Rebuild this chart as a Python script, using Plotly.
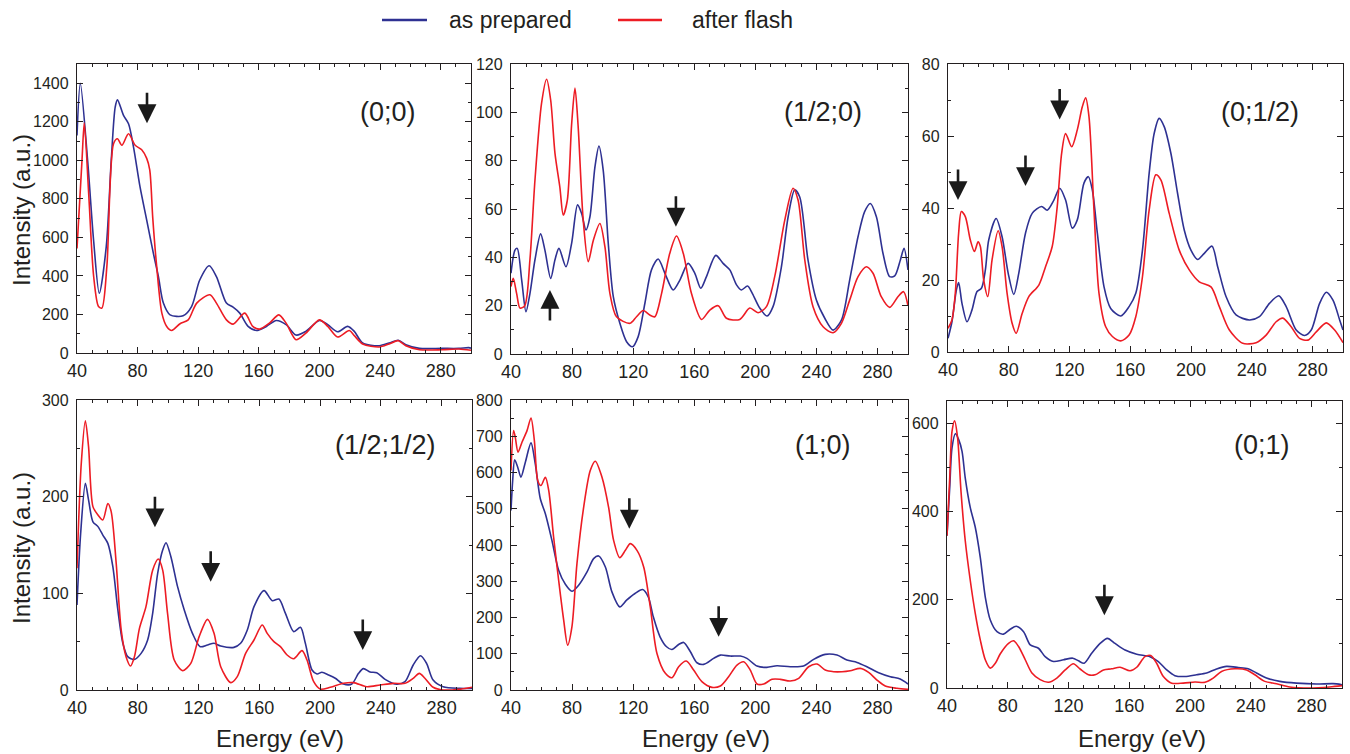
import plotly.graph_objects as go

BLUE = "#2e3192"
RED = "#ed1c24"
INK = "#231f20"
FONT = "Liberation Sans, Arial, sans-serif"

series_names = ["as prepared", "after flash"]
x_ticks = [40, 80, 120, 160, 200, 240, 280]

# ---- (0;0) ----
e_00_prep = [40, 42.2, 47, 51, 54.7, 59.3, 62.6, 65.2, 66.7, 70.7, 74, 77.3, 81.6, 86, 90.4, 93.7, 97, 101.4, 110,
             115.6, 121, 127.2, 132, 138.6, 143, 147.4, 152.9, 158.4, 165, 171.5, 178, 184.6, 191, 200, 205.5, 212,
             218.6, 223, 228.5, 239.5, 246, 252, 257, 266, 281, 292, 298.6, 300]
i_00_prep = [1129, 1400, 1000, 580, 310, 552, 1000, 1276, 1314, 1233, 1190, 1069, 862, 690, 517, 397, 259, 198, 193,
             241, 379, 453, 397, 259, 238, 207, 138, 117, 138, 169, 147, 93, 112, 169, 147, 110,
             138, 112, 52, 38, 52, 66, 43, 24, 24, 24, 28, 25]
e_00_flash = [40, 43.3, 44.8, 47.7, 51, 54.2, 56.4, 59.7, 64.1, 66.7, 69.6, 74, 78.4, 82.7, 86, 88, 90, 92.6, 96, 99.2,
              102.5, 108, 113.4, 119, 127.7, 132, 138.6, 143, 150.7, 156, 160.5, 167, 173.2, 178, 184.6, 191, 200,
              205.5, 212, 219.7, 223, 228.5, 239.5, 246, 252, 257, 266, 281, 292, 300]
i_00_flash = [543, 1000, 1193, 828, 397, 241, 233, 448, 1086, 1112, 1078, 1138, 1078, 1055, 1010, 950, 700, 448, 207, 138,
              117, 152, 172, 259, 302, 259, 172, 150, 207, 138, 124, 155, 198, 155, 69, 103, 172,
              138, 83, 117, 90, 47, 31, 47, 64, 38, 17, 17, 21, 14]

# ---- (1/2;0) ----
e_h0_prep = [40, 42.6, 44.1, 47, 49.8, 52.4, 55.7, 59.4, 62.2, 66, 68.8, 71.4, 76, 79.7, 83.6, 86.2, 89.1, 91.7, 95,
             97.6, 100.4, 103.7, 107, 111.3, 115.7, 119.6, 123.3, 127.7, 132, 136.4, 140.8, 146.2, 150.6, 156,
             160.4, 164.3, 168, 174.1, 178.9, 183.3, 187.7, 190.9, 194.9, 198.1, 202.9, 207.7, 211.6, 217.1,
             221.5, 225.8, 229.1, 234.5, 240, 245.5, 250.9, 256.4, 261.8, 267.3, 271.6, 275.3, 279.3, 283.6, 288,
             291.3, 295, 297.4, 300]
i_h0_prep = [33.4, 43, 43.7, 30.6, 17.5, 25, 39, 49.7, 43, 31.3, 39, 43.7, 36.1, 45.8, 61.7, 58.2, 51.3, 56.8, 77.5,
             86, 76, 45.8, 23.7, 12.7, 5.1, 3, 7.2, 21, 34.8, 39.3, 33.4, 26.5, 30.6, 37.5,
             33.4, 27.2, 32, 40.8, 37.5, 34.8, 28.6, 26.5, 28.1, 25, 19, 15.7, 19.6, 36.1,
             56.8, 67.9, 65, 38.9, 22.3, 14.8, 9.9, 14, 30.6, 48.6, 58.9, 62.3, 56.8, 41.7, 32,
             32.3, 38.9, 43.7, 34.8]
e_h0_flash = [40, 41.5, 43.7, 45.9, 49, 52.4, 55.7, 60, 63.3, 66, 68.8, 72, 74.2, 76.9, 79.7, 81.9, 84, 87.3, 90.6,
              93.9, 98.2, 101.5, 104.8, 109.1, 117.9, 122.2, 126.6, 130.9, 134.2, 138.6, 144, 148.4, 152.8, 158.2,
              164.8, 170.2, 175.7, 181.1, 189.8, 196.4, 201.8, 207.3, 212.7, 219.3, 224.7, 228, 232.4, 237.8,
              244.4, 250.9, 256.4, 261.8, 267.3, 272.7, 277.1, 282.5, 288, 293.4, 297.1, 300]
i_h0_flash = [27.9, 31.3, 25, 19, 20, 39, 72, 103.7, 113.7, 105, 83, 69, 57.5, 63.7, 95, 110, 94, 55.4, 38.2,
              47, 54, 44.4, 25, 15.4, 12.7, 15.4, 18, 16.1, 15.4, 25, 41.7, 48.8, 41.7, 25,
              14.3, 18.2, 20, 14.8, 14.3, 19, 17.1, 19.6, 32, 55.4, 68.6, 63.7, 38.9, 19.6,
              11.3, 8.8, 12.7, 22.3, 32, 36.1, 33.4, 23.7, 19.3, 23.7, 25.8, 19.9]

# ---- (0;1/2) ----
e_0h_prep = [40, 42.6, 45.5, 47, 49.2, 52.5, 55.8, 59.1, 62, 64.6, 66.8, 71.7, 75.6, 79.6, 83.3, 86.6, 91, 95.4,
             101.6, 105.3, 109.7, 113.5, 117.4, 121.8, 125.1, 129.5, 132.4, 135, 138.3, 142.7, 147.1, 153.7,
             159.2, 163.6, 168, 172.4, 175.7, 179, 182.3, 186.7, 191.1, 195.5, 199.9, 204.3, 208.7, 213.8,
             217.5, 223, 229.6, 238.4, 245, 251.6, 257.8, 262.6, 269.2, 274.7, 279.1, 284.6, 289, 293.4, 297.8, 300]
i_0h_prep = [3.8, 8.4, 17.2, 19.3, 13.5, 8.4, 11.7, 16.8, 17.7, 22.8, 31.1, 37.1, 32, 21.9, 16, 21.9, 33, 38.5,
             40.4, 39.4, 42.2, 45.5, 42.2, 34.4, 36.7, 46.9, 48.7, 45, 33, 18.1, 12.1, 10,
             12.6, 16.3, 28.3, 49.6, 60.7, 64.9, 62.6, 55.2, 44.1, 33.9, 28.3, 25.7, 27.4, 29.4,
             23.7, 15.4, 10.3, 8.9, 9.8, 13.5, 15.6, 12.6, 6.1, 4.6, 6.1, 13.5, 16.6, 14.4, 8.9, 6.1]
e_0h_flash = [40, 42.6, 44.8, 47, 48.8, 51.4, 54.7, 57.4, 59.8, 61.3, 63.5, 66.2, 69, 73, 75.6, 78.9, 82.2, 84.9,
              88.8, 93.2, 99.8, 104.2, 108.6, 111.9, 114.8, 117.4, 121.4, 125.1, 128.4, 130.6, 132.8, 136.1,
              139.4, 143.8, 148.2, 153.7, 159.2, 163.6, 168, 172.4, 176.8, 180.1, 185.6, 192.2, 198.8, 205.4,
              213.1, 218.6, 225.2, 234, 242.8, 249.4, 256, 260.4, 265.9, 271.4, 276.9, 282.4, 289, 294.5, 300]
i_0h_flash = [6.6, 8.9, 16.3, 33, 39, 37.6, 31.1, 27.9, 30.6, 29.3, 20, 15.4, 25.6, 33.7, 29.3, 16.3, 8, 5.2,
              10.7, 15.4, 18.6, 23.7, 29.3, 40.4, 55.2, 60.7, 57, 61.7, 68.1, 70.6, 65.4, 39.4,
              16.3, 7, 4.3, 3.1, 4.7, 9.8, 20.9, 39.4, 49.2, 47.8, 38.5, 28.3, 22.8, 19.5,
              18.1, 12.6, 6.1, 2.4, 2.6, 4.7, 8.4, 9.4, 7, 3.8, 3.3, 5.6, 8.1, 6.1, 2.6]

# ---- (1/2;1/2) ----
e_hh_prep = [40, 42.4, 45.5, 47.6, 50.5, 53.8, 57, 60.3, 63.6, 66.9, 70.2, 73.4, 77.8, 82.2, 86.5, 89.8, 93.1, 96.4,
             98.6, 101.8, 106.2, 110.6, 116, 121.1, 125.9, 130.2, 134.6, 143.3, 147.7, 152.1, 156.5, 163.1, 168.5,
             172.9, 177.2, 182.7, 187.1, 190.3, 194.7, 198, 201.2, 205.6, 210, 215.4, 220.9, 225.3, 228.5,
             232.9, 237.3, 242.8, 250.4, 255.9, 261.3, 266.1, 270.1, 274.4, 281, 291.9, 300]
i_hh_prep = [87.9, 162, 213.8, 196.6, 174, 169, 160.3, 151.7, 127.6, 82.8, 48.3, 34.5, 31.7, 37.9, 51.7, 79.3, 120.7,
             144.8, 152.4, 137.9, 106.9, 82.8, 58.6, 44.8, 46.6, 48.3, 45.5, 44.1, 48.3, 62.1, 86.2, 102.8, 92.4,
             94.1, 79.3, 60.3, 64.8, 48.3, 20.7, 16.6, 18.3, 15.5, 12.1, 6.2, 6.2, 17.2, 22.1,
             18.6, 17.9, 11, 5.9, 8.6, 25.9, 35.5, 27.6, 10.3, 3.4, 1.7, 1.7]
e_hh_flash = [40, 42.8, 45.5, 47.6, 50.5, 53.8, 57, 60.3, 62.5, 65.8, 69.1, 72.3, 75.2, 77.8, 81.1, 85.4, 89.8, 93.5,
              96.4, 99.6, 104, 109.5, 114.9, 120.4, 125.9, 130.2, 134.6, 141.2, 145.5, 151, 156.5, 161.9, 165.2,
              169.6, 173.9, 178.3, 182.7, 188.1, 191.4, 195.8, 200.1, 206.7, 215.4, 222, 230.7, 239.5, 248.2,
              255.9, 261.3, 265.3, 269, 274.4, 281, 291.9, 300]
i_hh_flash = [125.9, 234, 278.6, 251.7, 189.7, 181, 175.9, 193, 184.5, 131, 62, 34.5, 24.8, 34.5, 63.8, 86.2, 124, 135.5,
              124, 79.3, 31, 20, 27.6, 55.2, 73.1, 58.6, 24.1, 7.6, 13.8, 37.9, 51.7, 67.2, 58.6,
              50, 44.8, 36.2, 32.4, 40.7, 31, 8.6, 1, 2.8, 6.9, 7.6, 3.4, 5.2, 6.9,
              6.9, 12.1, 17.2, 12.1, 2.8, 0, 0.7, 2.8]

# ---- (1;0) ----
e_10_prep = [40, 41.1, 42.4, 44.4, 46.5, 49.4, 53.1, 55.9, 59.2, 62.5, 66.8, 71.2, 75.6, 79.9, 84.3, 89.8, 94.1, 97.4,
             101.8, 106.1, 111.2, 115.7, 121.2, 126.2, 129.9, 133.2, 137.6, 141.9, 145.4, 149.8, 153.1, 157.5,
             161.8, 166.2, 172.7, 177.1, 183.6, 190.2, 194.5, 201.1, 207.6, 214.2, 222.9, 231.6, 238.2, 245.8,
             253.5, 260, 266.6, 273.1, 280.8, 288.4, 294.9, 300]
i_10_prep = [495.4, 578, 634.9, 614.7, 587.2, 628.4, 681.7, 623.9, 527.5, 486.2, 412.8, 330.3, 291.7, 272.5, 289,
             325.7, 362.4, 369.7, 339.4, 270.6, 229.4, 247.7, 266.1, 277, 256.9, 201.8, 146.8, 119.3, 111.9, 125.7,
             131.2, 105.5, 75.2, 70.6, 87.2, 96.3, 93.6, 93.6, 87.2, 66.1, 62.4, 67, 64.2, 66.1, 84.4, 98.2,
             96.3, 82.6, 76.1, 64.2, 47.7, 36.7, 30.3, 16.5]
e_10_flash = [40, 41.7, 42.8, 44.6, 47.2, 50.5, 53.1, 55.3, 57.5, 59.6, 62.5, 64.7, 67.9, 71.2, 74.5, 77.1, 79.9,
              83.2, 87.6, 91.9, 95.2, 99.6, 103.9, 107.2, 111.2, 114.9, 118.1, 122.5, 126.9, 131.2, 135.6, 141.1,
              145.4, 149.8, 154.8, 159.6, 165, 171.6, 177.1, 182.5, 188, 192.4, 196.7, 201.1, 205.5, 210.9, 216.4,
              222.9, 228.4, 234.9, 240.4, 245.8, 251.3, 256.8, 262.2, 268.8, 274.2, 279.7, 285.1, 292.8, 300]
i_10_flash = [605.5, 715.6, 697.2, 656, 683.5, 715.6, 750.5, 688, 578, 564, 587, 550.5, 422, 302.8, 192.7, 123.9,
              174.3, 348.6, 504.6, 605.5, 631.2, 587, 504.6, 412.8, 365.1, 385.3, 403.7, 385.3, 339.4, 229.4, 100.9,
              45.9, 33.9, 64.2, 79.8, 55, 22.9, 7.3, 11, 36.7, 68.8, 78, 55, 16.5, 16.5, 29.4, 29.4,
              24.8, 32.1, 64.2, 71.6, 55, 50.5, 50.5, 53.2, 59.6, 48.6, 27.5, 11, 4.6, 1.8]

# ---- (0;1) ----
e_01_prep = [40, 41.8, 43.3, 45.5, 47.7, 49.9, 52, 55.3, 58.6, 61.9, 65.2, 68.5, 72.9, 77.2, 81.6, 85.6, 90.4, 94.8,
             100.2, 104.6, 110.1, 116.7, 122.8, 126.5, 130.3, 135.3, 140.8, 145.6, 150.6, 157.2, 164.9, 173.6,
             179.1, 184.6, 190, 196.6, 204.3, 210.9, 217.4, 224, 231.7, 238.2, 243.7, 250.3, 259.1, 270, 283.2,
             294.1, 300]
i_01_prep = [345, 454, 544, 576, 562.5, 536, 476, 409, 364, 296, 206, 154, 127.5, 122, 133, 140, 127.5, 97.5,
             90, 71, 60, 64, 67.5, 61.5, 56, 79, 101, 112.5, 101, 86, 76.5, 71,
             60, 41, 28, 26, 30, 34, 43, 49, 46.5, 43.5, 34, 22.5, 15, 11, 9,
             9.8, 7.5]
e_01_flash = [40, 41.8, 43.3, 45, 47, 49.2, 52, 55.3, 58.6, 61.9, 65.2, 68.5, 71.8, 75, 80.5, 83.8, 87.1, 91.5, 95.9,
              101.3, 106.8, 112.3, 117.8, 123.2, 127.6, 133.1, 137.5, 143, 148.4, 153.9, 160.5, 164.9, 170.3, 174.1,
              178, 182.4, 187.9, 195.5, 203.2, 209.8, 215.2, 220.7, 229.5, 237.2, 242.6, 249.2, 256.9, 265.6,
              278.8, 291.9, 300]
i_01_flash = [345, 476, 581, 605, 566, 446, 334, 244, 169, 109, 64, 45, 56, 77, 101, 107, 94, 64, 34,
              19, 13, 22.5, 41, 55, 43, 30, 30, 41, 43.5, 47, 39, 47, 71, 73.5,
              56, 26, 11, 11, 13.5, 13, 22.5, 37.5, 43.5, 41, 30, 15, 9.8, 2.3,
              0, 2.3, 5.3]

# arrow tips (energy, intensity) and pointing direction for each panel
arrows_00 = ([86.2], [1193], ["down"])
arrows_h0 = ([148, 65.5], [52.7, 26.5], ["down", "up"])
arrows_0h = ([46.6, 91, 113.5], [42.2, 46.1, 64.6], ["down", "down", "down"])
arrows_hh = ([91.3, 128, 228.1], [168.3, 112, 41.4], ["down", "down", "down"])
arrows_10 = ([117.5, 176], [445, 146.8], ["down", "down"])
arrows_01 = ([143.6], [165], ["down"])

W, H = 1350, 754

panels = [
    dict(label="(0;0)", prep=(e_00_prep, i_00_prep), flash=(e_00_flash, i_00_flash), yr=[0, 1500], dt=200,
         mdt=100, xd=(77, 471), yd=(64, 353), lab=(388, 112), arrows=arrows_00),
    dict(label="(1/2;0)", prep=(e_h0_prep, i_h0_prep), flash=(e_h0_flash, i_h0_flash), yr=[0, 120], dt=20,
         mdt=10, xd=(511, 908), yd=(64, 354), lab=(823, 112), arrows=arrows_h0),
    dict(label="(0;1/2)", prep=(e_0h_prep, i_0h_prep), flash=(e_0h_flash, i_0h_flash), yr=[0, 80], dt=20,
         mdt=10, xd=(948, 1343), yd=(64, 352), lab=(1260, 112), arrows=arrows_0h),
    dict(label="(1/2;1/2)", prep=(e_hh_prep, i_hh_prep), flash=(e_hh_flash, i_hh_flash), yr=[0, 300], dt=100,
         mdt=50, xd=(77, 472), yd=(400, 690), lab=(385, 445), arrows=arrows_hh),
    dict(label="(1;0)", prep=(e_10_prep, i_10_prep), flash=(e_10_flash, i_10_flash), yr=[0, 800], dt=100,
         mdt=50, xd=(511, 908), yd=(400, 690), lab=(823, 445), arrows=arrows_10),
    dict(label="(0;1)", prep=(e_01_prep, i_01_prep), flash=(e_01_flash, i_01_flash), yr=[0, 650], dt=200,
         mdt=100, xd=(947, 1342), yd=(401, 688), lab=(1262, 445), arrows=arrows_01),
]

fig = go.Figure()
layout = dict(
    width=W, height=H, autosize=False, margin=dict(l=0, r=0, t=0, b=0, pad=0),
    paper_bgcolor="white", plot_bgcolor="white", showlegend=False,
    font=dict(family=FONT, color=INK),
)
annotations = []
shapes = []

for k, p in enumerate(panels, start=1):
    sx = "" if k == 1 else str(k)
    xa, ya = "x" + sx, "y" + sx
    for (ex, iy), color, name in ((p["prep"], BLUE, series_names[0]), (p["flash"], RED, series_names[1])):
        fig.add_trace(go.Scatter(x=ex, y=iy, mode="lines", name=name, xaxis=xa, yaxis=ya,
                                 line=dict(color=color, width=1.6, shape="spline", smoothing=0.8)))
    common = dict(showline=True, linecolor=INK, linewidth=1.3, mirror="allticks", ticks="inside",
                  tickcolor=INK, tickwidth=1.2, ticklen=6, showgrid=False, zeroline=False, automargin=False)
    layout["xaxis" + sx] = dict(common, domain=[p["xd"][0] / W, p["xd"][1] / W], range=[40, 300],
                                tickvals=x_ticks, anchor=ya, tickfont=dict(size=18, color=INK),
                                ticklabelstandoff=1,
                                minor=dict(dtick=10, tick0=40, ticks="inside", ticklen=3, tickcolor=INK,
                                           showgrid=False))
    layout["yaxis" + sx] = dict(common, domain=[1 - p["yd"][1] / H, 1 - p["yd"][0] / H], range=p["yr"],
                                dtick=p["dt"], tick0=0, anchor=xa, tickfont=dict(size=16, color=INK),
                                ticklabelstandoff=4,
                                minor=dict(dtick=p["mdt"], tick0=0, ticks="inside", ticklen=3, tickcolor=INK,
                                           showgrid=False))
    annotations.append(dict(text=p["label"], xref="paper", yref="paper", x=p["lab"][0] / W,
                            y=1 - p["lab"][1] / H, showarrow=False, font=dict(size=27, color=INK),
                            xanchor="center", yanchor="middle"))
    for ae, ai, ad in zip(*p["arrows"]):
        annotations.append(dict(x=ae, y=ai, xref=xa, yref=ya, text="", showarrow=True, arrowhead=2,
                                arrowsize=1.45, arrowwidth=2.6, arrowcolor="#1a1a1a", ax=0,
                                ay=-32 if ad == "down" else 32, standoff=0))

# axis titles
for yc in (210, 548):
    annotations.append(dict(text="Intensity (a.u.)", xref="paper", yref="paper", x=21 / W, y=1 - yc / H,
                            textangle=-90, showarrow=False, font=dict(size=24, color=INK),
                            xanchor="center", yanchor="middle"))
for xc in (280, 706, 1142):
    annotations.append(dict(text="Energy (eV)", xref="paper", yref="paper", x=xc / W, y=1 - 738 / H,
                            showarrow=False, font=dict(size=24, color=INK), xanchor="center", yanchor="middle"))

# legend (keys + labels at top)
legend_items = [(382, 427, 447, series_names[0], BLUE), (618, 662, 690, series_names[1], RED)]
for x0, x1, xt, txt, col in legend_items:
    shapes.append(dict(type="line", xref="paper", yref="paper", x0=x0 / W, x1=x1 / W, y0=1 - 20 / H,
                       y1=1 - 20 / H, line=dict(color=col, width=2.5)))
    annotations.append(dict(text=txt, xref="paper", yref="paper", x=xt / W, y=1 - 20 / H, showarrow=False,
                            xanchor="left", yanchor="middle", font=dict(size=23, color=INK)))

layout["annotations"] = annotations
layout["shapes"] = shapes
fig.update_layout(**layout)

post = (
    "var st=document.createElement('style');"
    "st.innerHTML='html,body{margin:0 !important;padding:0 !important;overflow:hidden;}';"
    "document.head.appendChild(st);"
    "var gd=document.getElementById('{plot_id}');"
    "gd.style.width='1350px';gd.style.height='754px';"
    "Plotly.relayout(gd,{width:1350,height:754,autosize:false});"
)
fig.write_html("out.html", post_script=post, config={"responsive": False})
